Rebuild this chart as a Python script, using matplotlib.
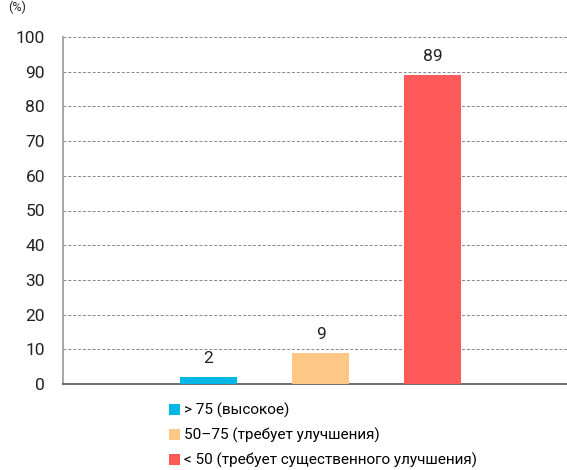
import numpy as np
import matplotlib.pyplot as plt
from matplotlib.patches import Patch

plt.rcParams['font.family'] = ['Roboto', 'DejaVu Sans']

# data
categories = ['> 75 (высокое)', '50–75 (требует улучшения)', '< 50 (требует существенного улучшения)']
values = [2, 9, 89]
colors = ['#00B8E6', '#FDC886', '#FF5A5A']
yticks = [0, 10, 20, 30, 40, 50, 60, 70, 80, 90, 100]

fig = plt.figure(figsize=(5.67, 4.70), dpi=100)
ax = fig.add_axes([63 / 567, 1 - 384 / 470, 1 - 63 / 567, (384 - 37) / 470])

x = np.arange(len(values))
bars = ax.bar(x, values, width=57 / 112, color=colors, zorder=3)
for xi, v in zip(x, values):
    ax.annotate(str(v), (xi, v), xytext=(0, 8), textcoords='offset points',
                ha='center', va='bottom', fontsize=12.5, color='#222222')

ax.set_xlim(-1.3, 3.2)
ax.set_ylim(0, 100)
ax.set_yticks(yticks)
ax.set_xticks([])
ax.tick_params(axis='y', length=0, pad=13, labelsize=12.5, colors='#222222')
ax.yaxis.grid(True, linestyle=(0, (3, 2)), color='#888888', linewidth=0.7, zorder=0)

for s in ['top', 'right']:
    ax.spines[s].set_visible(False)
ax.spines['left'].set_color('#999999')
ax.spines['bottom'].set_color('#555555')
ax.spines['left'].set_linewidth(1.2)
ax.spines['bottom'].set_linewidth(1.2)

fig.text(8 / 567, 1 - 1 / 470, '(%)', fontsize=9, ha='left', va='top', color='#222222')

handles = [Patch(facecolor=c) for c in colors]
fig.legend(handles, categories, loc='upper left', bbox_to_anchor=(169 / 567, 1 - 403 / 470),
           frameon=False, fontsize=11, handlelength=0.7, handleheight=0.7,
           handletextpad=0.25, labelspacing=0.62, borderpad=0, borderaxespad=0)

fig.savefig('out.png', dpi=100)
